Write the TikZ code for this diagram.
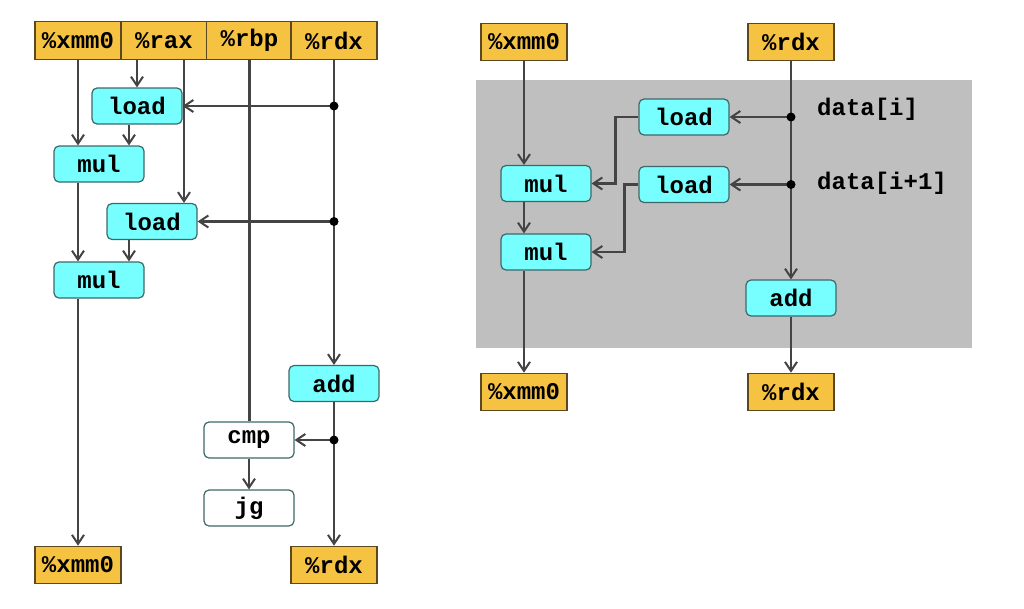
\documentclass[tikz,border=0pt]{standalone}
\usepackage{fontspec}
\setmonofont{Liberation Mono}
\usetikzlibrary{arrows.meta}
\definecolor{regfill}{HTML}{F5C242}
\definecolor{regline}{HTML}{5C4820}
\definecolor{opfill}{HTML}{77FEFE}
\definecolor{opline}{HTML}{3E6868}
\definecolor{trait}{HTML}{444444}
\definecolor{fond}{HTML}{BFBFBF}
\begin{document}
\begin{tikzpicture}	[x=1pt,y=-1pt,
  every node/.style={font=\ttfamily\bfseries\fontsize{24}{28}\selectfont,inner sep=0pt},
  reg/.style={draw=regline,line width=1.2pt,fill=regfill,minimum width=86pt,minimum height=37.5pt},
  op/.style={draw=opline,line width=1.2pt,fill=opfill,rounded corners=5pt,minimum width=90pt,minimum height=36pt},
  fil/.style={draw=trait,line width=2.3pt},
  fl/.style={fil,-{Straight Barb[length=9pt,width=12pt,line width=2pt]}}]

\useasboundingbox (0,0) rectangle (1024,608);

%boucle simple
\node [reg] (xa) at (78,40.5) {\%xmm0};
\node [reg] (ra) at (164,40.5) {\%rax};
\node [reg] (rb) at (249.5,40.5) {\%rbp};
\node [reg] (rd) at (334,40.5) {\%rdx};
\node [op] (ld1) at (137,106) {load};
\node [op] (mu1) at (99,164) {mul};
\node [op] (ld2) at (152,221.5) {load};
\node [op] (mu2) at (99,280) {mul};
\node [op] (ad1) at (334,383.5) {add};
\node [op,fill=white] (cm) at (249,440) {cmp};
\node [op,fill=white] (jg) at (249,508) {jg};
\node [reg] (xb) at (78,565) {\%xmm0};
\node [reg] (rdb) at (334,565) {\%rdx};
\coordinate (d1) at (rd.south |- ld1);
\coordinate (d2) at (rd.south |- ld2);
\coordinate (d3) at (ad1.south |- cm);
\coordinate (r2) at ([xshift=20pt]ra.south);

\draw [fl] (xa.south) -- (xa.south |- mu1.north);
\draw [fl] (xa.south |- mu1.south) -- (xa.south |- mu2.north);
\draw [fl] (xa.south |- mu2.south) -- (xb.north);
\draw [fl] (ra.south -| ld1) -- (ld1.north);
\draw [fl] (r2) -- (r2 |- ld2.north);
\draw [fl] ([xshift=-8pt]ld1.south) -- ([xshift=-8pt]ld1.south |- mu1.north);
\draw [fl] ([xshift=-23pt]ld2.south) -- ([xshift=-23pt]ld2.south |- mu2.north);
\draw [fil] (rb.south) -- (rb.south |- cm.north);
\draw [fl] (rd.south) -- (ad1.north);
\draw [fl] (ad1.south) -- (rdb.north);
\draw [fl] (d1) -- (ld1.east);
\draw [fl] (d2) -- (ld2.east);
\draw [fl] (d3) -- (cm.east);
\draw [fl] (cm.south) -- (jg.north);
\foreach \d in {d1,d2,d3} \fill (\d) circle (4.5pt);

%boucle deroulee
\fill [fond] (476,80) rectangle (972,347.5);
\node [reg] (xc) at (524,42) {\%xmm0};
\node [reg] (rc) at (791,42) {\%rdx};
\node [op] (ld3) at (684,117) {load};
\node [op] (ld4) at (684,184.5) {load};
\node [op] (mu3) at (546,183.5) {mul};
\node [op] (mu4) at (546,252) {mul};
\node [op] (ad2) at (791,298) {add};
\node [reg] (xd) at (524,392) {\%xmm0};
\node [reg] (rdd) at (791,392) {\%rdx};
\node [anchor=west] (lb1) at (817,109) {data[i]};
\node [anchor=west] (lb2) at (817,183.5) {data[i+1]};
\coordinate (d4) at (rc.south |- ld3);
\coordinate (d5) at (rc.south |- ld4);

\draw [fl] (xc.south) -- (xc.south |- mu3.north);
\draw [fl] (xc.south |- mu3.south) -- (xc.south |- mu4.north);
\draw [fl] (xc.south |- mu4.south) -- (xd.north);
\draw [fl] (rc.south) -- (ad2.north);
\draw [fl] (ad2.south) -- (rdd.north);
\draw [fl] (d4) -- (ld3.east);
\draw [fl] (d5) -- (ld4.east);
\draw [fl] (ld3.west) -- ++(-23,0) |- (mu3.east);
\draw [fl] (ld4.west) -- ++(-14,0) |- (mu4.east);
\foreach \d in {d4,d5} \fill (\d) circle (4.5pt);

\end{tikzpicture}
\end{document}
